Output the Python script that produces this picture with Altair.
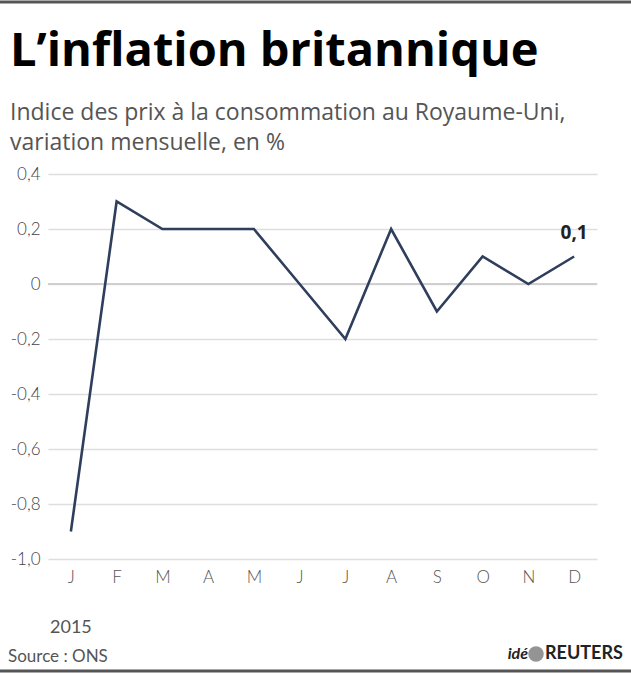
import altair as alt
import pandas as pd

# Monthly CPI change, United Kingdom, 2015 (%)
months = ["janv", "févr", "mars", "avr", "mai", "juin",
          "juil", "août", "sept", "oct", "nov", "déc"]
values = [-0.9, 0.3, 0.2, 0.2, 0.2, 0.0, -0.2, 0.2, -0.1, 0.1, 0.0, 0.1]
y_ticks = [0.4, 0.2, 0.0, -0.2, -0.4, -0.6, -0.8, -1.0]

df = pd.DataFrame({"mois": months, "valeur": values})
last = df.tail(1)

FONT = "Lato"
HEAD = "Open Sans"
W, H = 549, 385

x_enc = alt.X("mois:N", sort=months,
              scale=alt.Scale(type="point", padding=0.5),
              axis=alt.Axis(title=None, labelExpr="upper(substring(datum.label, 0, 1))",
                            labelAngle=0, ticks=False, domain=False,
                            labelPadding=10, labelFontSize=17, labelColor="#555",
                            labelFont=FONT, labelFontWeight=300, grid=False))
y_scale = alt.Scale(domain=[-1.0, 0.4], nice=False)
y_enc = alt.Y("valeur:Q", scale=y_scale,
              axis=alt.Axis(title=None, values=y_ticks, ticks=False, domain=False,
                            labelPadding=8, labelFontSize=17, labelColor="#444",
                            labelFont=FONT, labelFontWeight=300,
                            gridColor="#dedede", gridWidth=1.5,
                            labelExpr="datum.value == 0 ? '0' : (datum.value < 0 ? '-' : '') + replace(format(abs(datum.value), '.1f'), '.', ',')"))

line = alt.Chart(df).mark_line(color="#2e3e5c", strokeWidth=2.6).encode(x=x_enc, y=y_enc)

zero = alt.Chart(pd.DataFrame({"v": [0.0]})).mark_rule(color="#cfcfcf", strokeWidth=1.8).encode(
    y=alt.Y("v:Q", scale=y_scale), x=alt.value(0), x2=alt.value(W))

end_label = alt.Chart(last).transform_calculate(
    lbl="replace(format(datum.valeur, '.1f'), '.', ',')"
).mark_text(
    font=HEAD, fontSize=19, fontWeight="bold", color="#222", dy=-24
).encode(x=x_enc, y=y_enc, text="lbl:N")

def note(txt, x, y, size, color="#555", weight="normal", align="left",
         style="normal", font=FONT, baseline="middle"):
    return alt.Chart(pd.DataFrame({"t": [txt]})).mark_text(
        font=font, fontSize=size, color=color, fontWeight=weight, align=align,
        baseline=baseline, fontStyle=style
    ).encode(text="t:N", x=alt.value(x), y=alt.value(y))

# headline and subtitle, placed relative to the plot area (origin at 48,174)
title = note("L’inflation britannique", -38, -108, 47, color="#000", weight="bold",
             font=HEAD, baseline="alphabetic")
sub1 = note("Indice des prix à la consommation au Royaume-Uni,", -38, -54, 23,
            font=HEAD, baseline="alphabetic")
sub2 = note("variation mensuelle, en %", -38, -24, 23, font=HEAD, baseline="alphabetic")
year = note("2015", 2, 454, 18)
source = note("Source : ONS", -40, 483, 17)
ide = note("idé", 480, 480, 16, color="#222", weight="bold", align="right", style="italic")
reuters = note("REUTERS", 497, 480, 18, color="#222", weight="bold", align="left")
logo = alt.Chart(pd.DataFrame({"t": [0]})).mark_point(
    shape="circle", size=240, filled=True, color="#666"
).encode(x=alt.value(488), y=alt.value(480))

frame_top = alt.Chart(pd.DataFrame({"t": [0]})).mark_rule(color="#555", strokeWidth=3).encode(
    x=alt.value(-48), x2=alt.value(583), y=alt.value(-172))
frame_bot = alt.Chart(pd.DataFrame({"t": [0]})).mark_rule(color="#555", strokeWidth=3).encode(
    x=alt.value(-48), x2=alt.value(583), y=alt.value(497))

chart = alt.layer(
    zero, line, end_label, title, sub1, sub2, year, source, ide, logo, reuters,
    frame_top, frame_bot
).properties(
    width=W, height=H,
    autosize=alt.AutoSizeParams(type="none"),
    padding={"left": 48, "top": 174, "right": 34, "bottom": 116},
    background="white",
).configure_view(stroke=None)

chart.save("out.html", embed_options={"renderer": "svg", "actions": False})
